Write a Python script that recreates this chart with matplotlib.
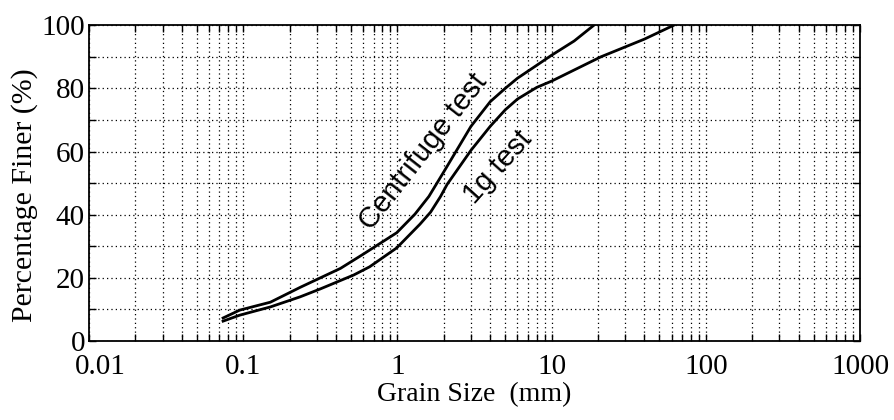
import numpy as np
import matplotlib
matplotlib.use("Agg")
import matplotlib.pyplot as plt
import matplotlib.transforms as mtransforms
from matplotlib.ticker import LogLocator, FixedLocator, FixedFormatter, NullFormatter

plt.rcParams['font.family'] = ['Liberation Serif', 'DejaVu Serif']

# grain size curves (mm, % finer)
centrifuge_x = [0.074, 0.095, 0.15, 0.234, 0.316, 0.427, 0.6, 0.99, 1.3, 1.6, 2.0, 3.0, 4.0,
                5.0, 6.0, 8.0, 10.0, 14.0, 18.8]
centrifuge_y = [7.3, 9.8, 12.3, 17.0, 20.0, 23.0, 27.5, 34.3, 40.2, 45.8, 53.6, 68.0, 75.8,
                80.0, 83.2, 87.3, 90.5, 95.0, 100.0]

onegee_x = [0.074, 0.095, 0.15, 0.234, 0.316, 0.52, 0.66, 0.99, 1.4, 1.64, 1.9, 2.1, 3.0, 4.0,
            5.0, 6.0, 8.0, 10.0, 20.9, 40.0, 62.0]
onegee_y = [6.3, 8.2, 10.8, 14.0, 16.5, 20.9, 23.5, 29.5, 37.0, 40.8, 45.7, 49.6, 60.4, 68.0,
            73.2, 76.6, 80.3, 82.3, 90.0, 95.6, 100.0]

xticks = [0.01, 0.1, 1, 10, 100, 1000]
xticklabels = ["0.01", "0.1", "1", "10", "100", "1000"]
yticks = [0, 20, 40, 60, 80, 100]

fig = plt.figure(figsize=(8.94, 4.2), dpi=100)
ax = fig.add_axes([0.0996, 0.188, 0.8624, 0.752])

ax.plot(centrifuge_x, centrifuge_y, color="black", lw=2)
ax.plot(onegee_x, onegee_y, color="black", lw=2)

ax.set_xscale("log")
ax.set_xlim(0.01, 1000)
ax.set_ylim(0, 100)

ax.xaxis.set_major_locator(FixedLocator(xticks))
ax.xaxis.set_major_formatter(FixedFormatter(xticklabels))
ax.xaxis.set_minor_locator(LogLocator(base=10, subs=np.arange(2, 10), numticks=20))
ax.xaxis.set_minor_formatter(NullFormatter())
ax.set_yticks(yticks)
ax.set_yticks(range(10, 100, 20), minor=True)

ax.grid(True, which="both", color="black", linestyle=(0, (1, 2.5)), linewidth=0.9)
ax.tick_params(which="both", direction="in", top=True, right=True, labelsize=21, length=5, width=1)
ax.tick_params(axis="x", pad=9)
ax.tick_params(axis="y", pad=3)
for s in ax.spines.values():
    s.set_linewidth(1.3)

# the "0.01" label sits a little right of its tick in the original
first = ax.get_xticklabels()[0]
first.set_transform(first.get_transform() + mtransforms.ScaledTranslation(0.11, 0, fig.dpi_scale_trans))

ax.set_xlabel("Grain Size  (mm)", fontsize=20, labelpad=2)
ax.set_ylabel("Percentage Finer (%)", fontsize=21.5)
ax.yaxis.set_label_coords(-0.066, 0.462)

ax.text(1.48, 60, "Centrifuge test", rotation=52, fontsize=21, family="Liberation Sans",
        ha="center", va="center", rotation_mode="anchor")
ax.text(4.5, 55, "1g test", rotation=48, fontsize=21, family="Liberation Sans",
        ha="center", va="center", rotation_mode="anchor")

fig.savefig("out.png", dpi=100)
